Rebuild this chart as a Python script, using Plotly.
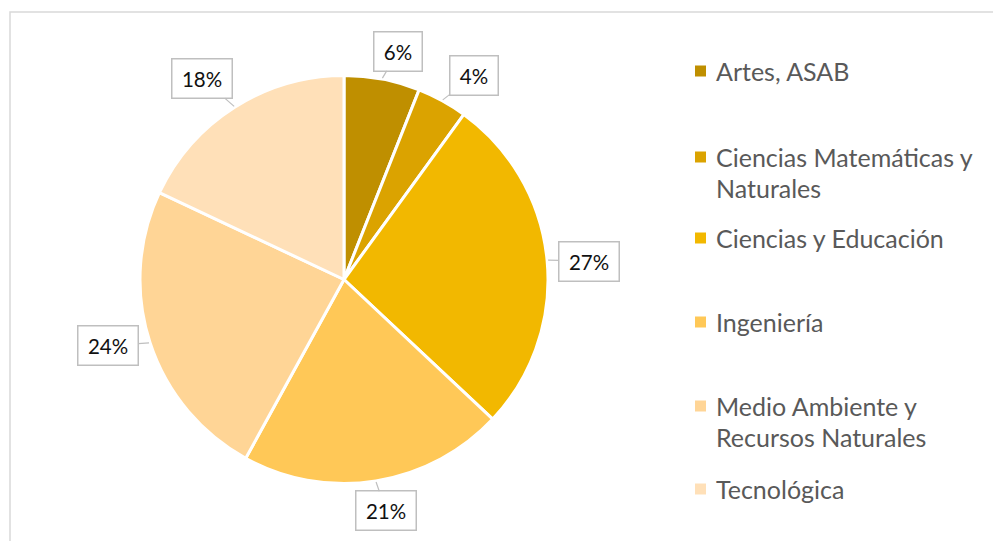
import math
import textwrap
import plotly.graph_objects as go

# ---- data ----
categories = ["Artes, ASAB", "Ciencias Matemáticas y Naturales", "Ciencias y Educación",
              "Ingeniería", "Medio Ambiente y Recursos Naturales", "Tecnológica"]
values = [6, 4, 27, 21, 24, 18]
colors = ["#BF8F00", "#DBA300", "#F2B800", "#FFC857", "#FFD596", "#FFE0B8"]

W, H = 993, 541
FONT = "Lato"

# pie geometry (pixels)
cx, cy, R = 344, 279.5, 204

fig = go.Figure(go.Pie(
    labels=categories, values=values, sort=False, direction="clockwise", rotation=0,
    marker=dict(colors=colors, line=dict(color="white", width=3)),
    textinfo="none", hoverinfo="label+percent", showlegend=False,
    domain=dict(x=[(cx - R) / W, (cx + R) / W], y=[(H - cy - R) / H, (H - cy + R) / H]),
))

# data label callouts
offsets = [(16, -27), (31, -24), (41, 1), (10, 29), (-41, 3), (-32, -28)]
total = sum(values)
cum = 0
for v, (dx, dy) in zip(values, offsets):
    mid = (cum + v / 2) / total * 2 * math.pi
    cum += v
    px = cx + (R + 1) * math.sin(mid)
    py = cy - (R + 1) * math.cos(mid)
    txt = f"{round(v / total * 100)}%"
    fig.add_annotation(
        x=px / W, y=1 - py / H, xref="paper", yref="paper",
        text=txt, showarrow=True, arrowhead=0, arrowwidth=1.2, arrowcolor="#BFBFBF",
        ax=dx, ay=dy, font=dict(family=FONT, size=20.5, color="#111111"),
        bgcolor="white", bordercolor="#BFBFBF", borderwidth=1.5, borderpad=6,
        width=12 * len(txt) + 11, height=26,
    )

# manual legend
legend_y = [71, 157, 238, 322, 406, 489]
line_h = 31
for cat, col, ly in zip(categories, colors, legend_y):
    lines = textwrap.wrap(cat, 22)
    fig.add_shape(type="rect", xref="paper", yref="paper",
                  x0=695 / W, x1=706 / W, y0=1 - (ly + 5.5) / H, y1=1 - (ly - 5.5) / H,
                  fillcolor=col, line=dict(width=0))
    for i, ln in enumerate(lines):
        fig.add_annotation(x=714 / W, y=1 - (ly + i * line_h) / H, xref="paper", yref="paper",
                           text=ln, showarrow=False, xanchor="left", yanchor="middle",
                           font=dict(family=FONT, size=25, color="#595959"))

# chart border
fig.add_shape(type="rect", xref="paper", yref="paper",
              x0=10 / W, y0=-0.05, x1=1.05, y1=1 - 12 / H,
              line=dict(color="#D9D9D9", width=1.5), fillcolor="rgba(0,0,0,0)", layer="below")

fig.update_layout(width=W, height=H, margin=dict(l=0, r=0, t=0, b=0),
                  paper_bgcolor="white", plot_bgcolor="white", showlegend=False)
fig.write_html("out.html", config={"displayModeBar": False},
               post_script="document.body.style.margin='0';document.body.style.overflow='hidden';")
